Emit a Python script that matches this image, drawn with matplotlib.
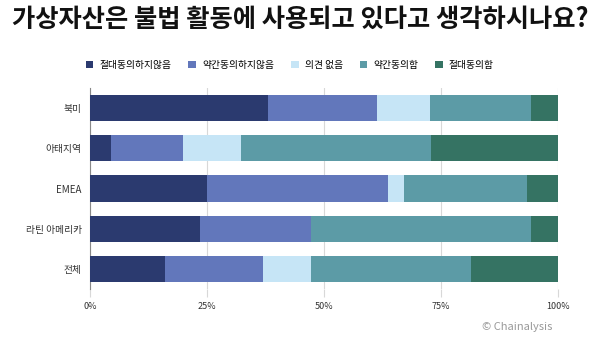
import numpy as np
import matplotlib.pyplot as plt

plt.rcParams['font.family'] = ['Noto Sans CJK KR', 'DejaVu Sans']

regions = ['북미', '아태지역', 'EMEA', '라틴 아메리카', '전체']
answers = ['절대동의하지않음', '약간동의하지않음', '의견 없음', '약간동의함', '절대동의함']
strongly_disagree = [38.0, 4.5, 25.0, 23.5, 16.0]
somewhat_disagree = [23.4, 15.4, 38.7, 23.7, 20.9]
no_opinion = [11.2, 12.4, 3.4, 0.0, 10.4]
somewhat_agree = [21.6, 40.6, 26.2, 47.0, 34.1]
strongly_agree = [5.8, 27.1, 6.7, 5.8, 18.6]
colors = ['#2b3a6f', '#6277bb', '#c6e5f6', '#5c9ba6', '#357363']

series = [strongly_disagree, somewhat_disagree, no_opinion, somewhat_agree, strongly_agree]

fig = plt.figure(figsize=(6, 3.45), dpi=100)
ax = fig.add_axes([0.15, 0.162, 0.78, 0.583])

y = np.arange(len(regions))
left = np.zeros(len(regions))
for vals, name, c in zip(series, answers, colors):
    vals = np.array(vals)
    ax.barh(y, vals, left=left, height=0.65, color=c, label=name, zorder=3)
    left += vals

ax.set_ylim(len(regions) - 0.5, -0.5)
ax.set_xlim(0, 100)
ax.set_yticks(y)
ax.set_yticklabels(regions, fontsize=7, color='#333333')
ax.set_xticks([0, 25, 50, 75, 100])
ax.set_xticklabels(['0%', '25%', '50%', '75%', '100%'], fontsize=6.5, color='#333333')
ax.tick_params(axis='y', length=0, pad=6)
ax.tick_params(axis='x', length=6, color='#d8d8d8', pad=3)
ax.grid(axis='x', color='#d8d8d8', linewidth=0.8, zorder=0)
for s in ['top', 'right', 'bottom']:
    ax.spines[s].set_visible(False)
ax.spines['left'].set_color('#888888')

fig.text(0.5, 0.945, '가상자산은 불법 활동에 사용되고 있다고 생각하시나요?',
         ha='center', va='center', fontsize=18.2, fontweight='bold', color='#111111')

fig.legend(loc='center', bbox_to_anchor=(0.483, 0.812), ncol=5, frameon=False,
           fontsize=7, handlelength=0.8, handleheight=0.8, columnspacing=1.75,
           handletextpad=0.6)

fig.text(0.92, 0.052, '© Chainalysis', ha='right', va='center', fontsize=8, color='#999999')

fig.savefig('out.png', dpi=100)
